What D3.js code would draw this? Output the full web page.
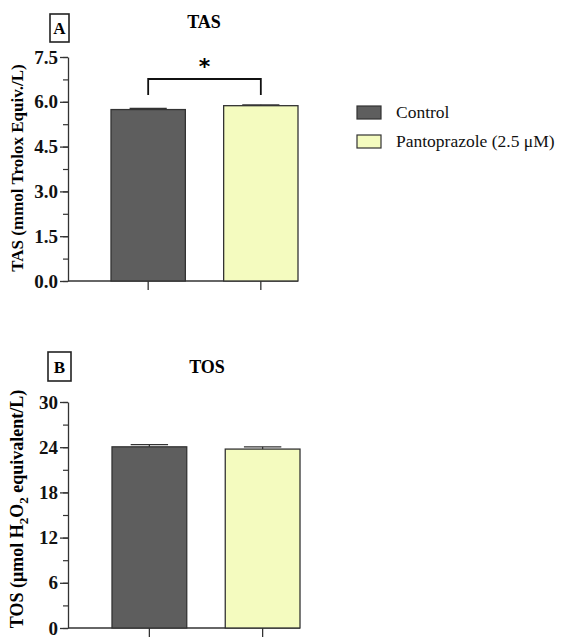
<!DOCTYPE html>
<html>
<head>
<meta charset="utf-8">
<script src="https://cdn.jsdelivr.net/npm/d3@7"></script>
<style>
  body { margin: 0; background: #fff; }
  svg { font-family: "Liberation Serif", "Times New Roman", serif; }
</style>
</head>
<body>
<svg id="drawing_region" width="566" height="639"></svg>
<script>
const groups = ['Control', 'Pantoprazole (2.5 μM)'];
const colors = ['#5e5e5e', '#f4fbbf'];

const tasValues = [5.74, 5.87];
const tasErrors = [0.04, 0.03];
const tasTicks = [0, 1.5, 3.0, 4.5, 6.0, 7.5];

const tosValues = [24.05, 23.75];
const tosErrors = [0.3, 0.3];
const tosTicks = [0, 6, 12, 18, 24, 30];

const svg = d3.select('#drawing_region');

function panel(cfg) {
  const g = svg.append('g');
  const x = d3.scaleBand().domain(groups).range([cfg.barStart, cfg.right])
    .paddingInner(0.34).paddingOuter(0);
  const y = d3.scaleLinear().domain([0, cfg.max]).range([cfg.bottom, cfg.top]);

  // minor ticks
  const minor = d3.range(0, cfg.max + 1e-9, cfg.max / 10);
  g.append('g').attr('transform', `translate(${cfg.left},0)`)
    .call(d3.axisLeft(y).tickValues(minor).tickSize(5).tickFormat(''))
    .call(a => a.select('.domain').remove())
    .selectAll('line').attr('stroke', '#333').attr('stroke-width', 1.2);

  const yaxis = g.append('g').attr('transform', `translate(${cfg.left},0)`)
    .call(d3.axisLeft(y).tickValues(cfg.ticks).tickSize(8).tickPadding(2).tickSizeOuter(0)
      .tickFormat(cfg.fmt));
  yaxis.select('.domain').attr('stroke', '#333').attr('stroke-width', 1.3);
  yaxis.selectAll('line').attr('stroke', '#333').attr('stroke-width', 1.3);
  yaxis.selectAll('text').attr('font-family', 'Liberation Serif').attr('font-weight', 'bold')
    .attr('font-size', 19).attr('fill', '#111');

  // x axis: baseline from y axis to right edge, ticks at bar centres
  g.append('line').attr('x1', cfg.left).attr('x2', cfg.right)
    .attr('y1', y(0)).attr('y2', y(0)).attr('stroke', '#333').attr('stroke-width', 1.3);
  const xaxis = g.append('g').attr('transform', `translate(0,${cfg.bottom})`)
    .call(d3.axisBottom(x).tickSize(9).tickSizeOuter(0).tickFormat(''));
  xaxis.select('.domain').remove();
  xaxis.selectAll('line').attr('stroke', '#333').attr('stroke-width', 1.3);

  g.selectAll('rect.bar').data(cfg.values).enter().append('rect')
    .attr('class', 'bar')
    .attr('x', (d, i) => x(groups[i]))
    .attr('y', d => y(d))
    .attr('width', x.bandwidth())
    .attr('height', d => y(0) - y(d))
    .attr('fill', (d, i) => colors[i])
    .attr('stroke', '#333').attr('stroke-width', 1.3);

  // error bars
  cfg.values.forEach((v, i) => {
    const cx = x(groups[i]) + x.bandwidth() / 2;
    const hw = x.bandwidth() * 0.25;
    g.append('line').attr('x1', cx).attr('x2', cx).attr('y1', y(v)).attr('y2', y(v + cfg.errors[i]))
      .attr('stroke', '#333').attr('stroke-width', 1.3);
    g.append('line').attr('x1', cx - hw).attr('x2', cx + hw)
      .attr('y1', y(v + cfg.errors[i])).attr('y2', y(v + cfg.errors[i]))
      .attr('stroke', '#333').attr('stroke-width', 1.3);
  });

  // title
  g.append('text').attr('x', cfg.titleX).attr('y', cfg.titleY)
    .attr('text-anchor', 'middle').attr('font-weight', 'bold').attr('font-size', 18)
    .text(cfg.title);

  // panel letter box
  g.append('rect').attr('x', cfg.boxX).attr('y', cfg.boxY).attr('width', cfg.boxW).attr('height', cfg.boxH)
    .attr('fill', 'none').attr('stroke', '#222').attr('stroke-width', 1.6);
  g.append('text').attr('x', cfg.boxX + cfg.boxW / 2).attr('y', cfg.boxY + cfg.boxH / 2 + 6)
    .attr('text-anchor', 'middle').attr('font-weight', 'bold').attr('font-size', 17)
    .text(cfg.letter);

  // y label
  const yl = g.append('text')
    .attr('transform', `translate(${cfg.labelX},${cfg.labelY}) rotate(-90)`)
    .attr('text-anchor', 'middle').attr('font-weight', 'bold').attr('font-size', cfg.labelSize);
  cfg.label(yl);

  return { g, x, y };
}

const a = panel({
  left: 68, barStart: 111, right: 298, top: 57, bottom: 281, max: 7.5,
  ticks: tasTicks, fmt: d3.format('.1f'),
  values: tasValues, errors: tasErrors,
  title: 'TAS', titleX: 204, titleY: 28, letter: 'A',
  boxX: 50, boxY: 14, boxW: 19, boxH: 28,
  labelX: 23, labelY: 168, labelSize: 17,
  label: t => t.text('TAS (mmol Trolox Equiv./L)')
});

// significance bracket
{
  const cx0 = a.x(groups[0]) + a.x.bandwidth() / 2;
  const cx1 = a.x(groups[1]) + a.x.bandwidth() / 2;
  const yb = 79, yl = 95;
  a.g.append('path').attr('d', `M${cx0},${yl}V${yb}H${cx1}V${yl}`)
    .attr('fill', 'none').attr('stroke', '#111').attr('stroke-width', 1.8);
  a.g.append('text').attr('x', (cx0 + cx1) / 2).attr('y', 74).attr('text-anchor', 'middle')
    .attr('font-family', 'DejaVu Sans').attr('font-weight', 'bold').attr('font-size', 22).text('*');
}

panel({
  left: 68, barStart: 112, right: 300, top: 402, bottom: 628, max: 30,
  ticks: tosTicks, fmt: d3.format('d'),
  values: tosValues, errors: tosErrors,
  title: 'TOS', titleX: 207, titleY: 373, letter: 'B',
  boxX: 48, boxY: 352, boxW: 23, boxH: 29,
  labelX: 23, labelY: 509, labelSize: 18,
  label: t => {
    t.append('tspan').text('TOS (μmol H');
    t.append('tspan').attr('font-size', 13).attr('dy', 5).text('2');
    t.append('tspan').attr('dy', -5).text('O');
    t.append('tspan').attr('font-size', 13).attr('dy', 5).text('2');
    t.append('tspan').attr('dy', -5).text(' equivalent/L)');
  }
});

// legend
const legend = svg.append('g').attr('transform', 'translate(357,106)');
groups.forEach((name, i) => {
  const row = legend.append('g').attr('transform', `translate(0,${i * 29})`);
  row.append('rect').attr('width', 24).attr('height', 13)
    .attr('fill', colors[i]).attr('stroke', '#333').attr('stroke-width', 1.2);
  row.append('text').attr('x', 39).attr('y', 12).attr('font-size', 17.5).attr('fill', '#111').text(name);
});
</script>
</body>
</html>
